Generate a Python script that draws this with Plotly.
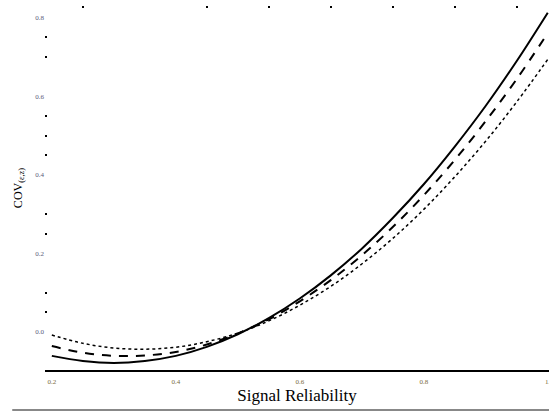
import plotly.graph_objects as go

x_vals = [0.20, 0.25, 0.30, 0.35, 0.40, 0.45, 0.50, 0.55, 0.60, 0.65, 0.70, 0.75, 0.80, 0.85, 0.90, 0.95, 1.00]
solid_vals = [-0.061, -0.074, -0.079, -0.074, -0.061, -0.038, -0.006, 0.035, 0.085, 0.144, 0.212, 0.290, 0.376, 0.472, 0.576, 0.690, 0.813]
dashed_vals = [-0.036, -0.053, -0.061, -0.060, -0.051, -0.032, -0.004, 0.032, 0.078, 0.132, 0.195, 0.267, 0.348, 0.438, 0.537, 0.644, 0.761]
dotted_vals = [-0.008, -0.029, -0.041, -0.044, -0.039, -0.025, -0.003, 0.028, 0.068, 0.116, 0.173, 0.238, 0.312, 0.395, 0.486, 0.586, 0.694]

x_tick_vals = [0.2, 0.4, 0.6, 0.8]
x_tick_text = ["0.2", "0.4", "0.6", "0.8"]
x_last_tick = 1.0
x_last_text = "1."
y_tick_vals = [0.0, 0.2, 0.4, 0.6, 0.8]
y_tick_text = ["0.0", "0.2", "0.4", "0.6", "0.8"]
y_dot_ticks = [0.05, 0.1, 0.25, 0.3, 0.45, 0.5, 0.55, 0.7, 0.75]
x_dot_ticks = [0.25, 0.45, 0.55, 0.65, 0.75, 0.85, 0.95]

X_RANGE = [0.189, 1.002]
Y_RANGE = [-0.097, 0.83]

fig = go.Figure()
fig.add_trace(go.Scatter(x=x_vals, y=dotted_vals, mode="lines", line_shape="spline",
                         line=dict(color="black", width=1.5, dash="dot"), showlegend=False))
fig.add_trace(go.Scatter(x=x_vals, y=dashed_vals, mode="lines", line_shape="spline",
                         line=dict(color="black", width=2, dash="9px,8px"), showlegend=False))
fig.add_trace(go.Scatter(x=x_vals, y=solid_vals, mode="lines", line_shape="spline",
                         line=dict(color="black", width=2), showlegend=False))
fig.add_trace(go.Scatter(x=[X_RANGE[0]], y=[Y_RANGE[0]], xaxis="x2", yaxis="y2",
                         mode="markers", marker=dict(opacity=0), showlegend=False, hoverinfo="skip"))

tick_font_x = dict(family="Liberation Serif", size=7, color="#7a6a40")

fig.update_layout(
    width=549, height=414,
    margin=dict(l=45, r=0, t=6, b=44),
    paper_bgcolor="white", plot_bgcolor="white",
    xaxis=dict(range=X_RANGE, tickvals=x_tick_vals, ticktext=x_tick_text,
               showgrid=False, zeroline=False, showline=True, linecolor="black", linewidth=2,
               ticks="", ticklabelstandoff=4, tickfont=tick_font_x,
               title=dict(text="Signal Reliability", standoff=4,
                          font=dict(family="Liberation Serif", size=17, color="black"))),
    yaxis=dict(range=Y_RANGE, tickvals=y_tick_vals, ticktext=y_tick_text,
               showgrid=False, zeroline=False, showline=False, ticks="",
               tickfont=dict(family="Liberation Serif", size=7, color="#5a5a7a"),
               title=dict(text="COV<sub>(ε,z)</sub>", standoff=10,
                          font=dict(family="Liberation Serif", size=12, color="black"))),
    xaxis2=dict(range=X_RANGE, overlaying="x", side="top", anchor="y",
                tickvals=x_dot_ticks, ticks="inside", ticklen=2, tickwidth=2, tickcolor="black",
                showticklabels=False, showgrid=False, zeroline=False, showline=False),
    yaxis2=dict(range=Y_RANGE, overlaying="y", side="left", anchor="x",
                tickvals=y_dot_ticks, ticks="inside", ticklen=2, tickwidth=2, tickcolor="black",
                showticklabels=False, showgrid=False, zeroline=False, showline=False),
    annotations=[dict(x=x_last_tick, xref="x", y=0, yref="paper", yshift=-6,
                      text=x_last_text, showarrow=False, xanchor="center", yanchor="top",
                      font=tick_font_x)],
    shapes=[dict(type="line", xref="paper", yref="paper", x0=-0.065, x1=1.0,
                 y0=-0.11, y1=-0.11, line=dict(color="#888888", width=2))],
)

fig.write_html("out.html")
